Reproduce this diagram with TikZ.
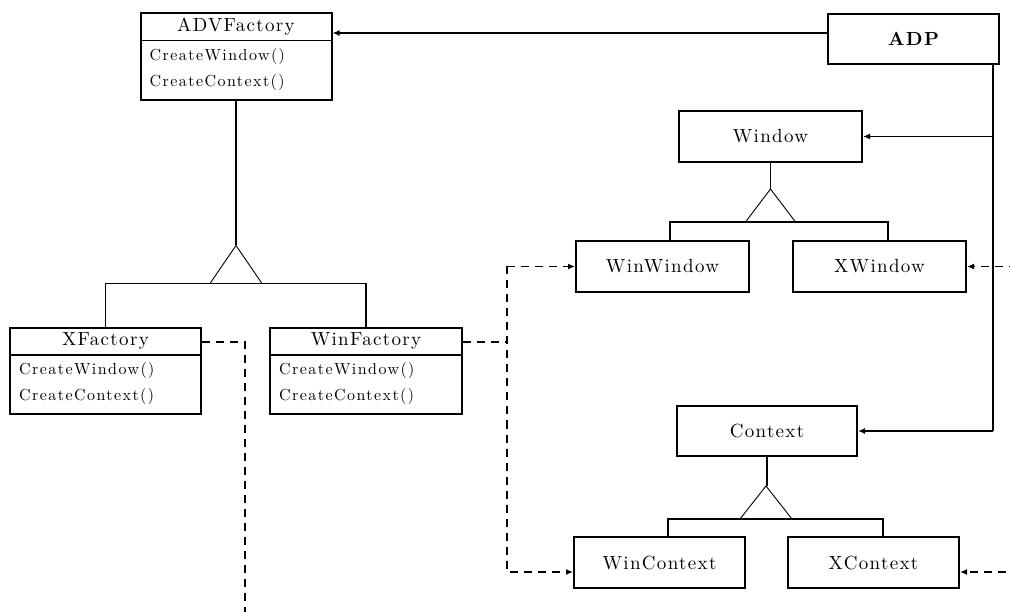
\documentclass[tikz,border=0pt]{standalone}
\usepackage{fontspec}
\usetikzlibrary{arrows.meta,calc}
\newfontfamily\ttlfam{lmroman10-regular}[Extension=.otf,BoldFont=lmroman10-bold,LetterSpace=7]
\newfontfamily\opfam{lmroman10-regular}[Extension=.otf,LetterSpace=9]
\newcommand{\ttlfont}{\ttlfam\fontsize{19}{22}\selectfont}
\newcommand{\opfont}{\opfam\fontsize{16}{19}\selectfont}
\begin{document}
\begin{tikzpicture}[x=1pt,y=-1pt,
  box/.style={draw,line width=2pt,rectangle,inner sep=0pt,font=\ttlfont,text height=13pt,text depth=0pt},
  conn/.style={line width=1.8pt},
  tri/.style={line width=0.9pt},
  dsh/.style={line width=1.8pt,dash pattern=on 8pt off 6pt},
  arr/.style={-{Latex[length=7pt,width=6pt]}},
  op/.style={anchor=base west,inner sep=0pt,font=\opfont},
  lbl/.style={anchor=base,inner sep=0pt,font=\ttlfont}]
\useasboundingbox (0,0) rectangle (1010,612);

% class boxes with compartments
\node[box,minimum width=191pt,minimum height=87pt] (ADV) at (236,57) {};
\node[box,minimum width=191pt,minimum height=86pt] (XF) at (105.5,371) {};
\node[box,minimum width=192pt,minimum height=86pt] (WF) at (366,371) {};
\foreach \b/\t in {ADV/ADVFactory,XF/XFactory,WF/WinFactory}{
  \draw[line width=1.4pt] ($(\b.north west)+(0,28)$) -- ($(\b.north east)+(0,28)$);
  \node[lbl] (\b-t) at ($(\b.north)+(0,19)$) {\t};
  \node[op] (\b-o1) at ($(\b.north west)+(10,48)$) {CreateWindow()};
  \node[op] (\b-o2) at ($(\b.north west)+(10,74)$) {CreateContext()};
}

% simple boxes
\node[box,minimum width=171pt,minimum height=50pt] (ADP) at (913.5,39) {\bfseries ADP};
\node[box,minimum width=183pt,minimum height=51pt] (Win) at (770.5,136.5) {Window};
\node[box,minimum width=173pt,minimum height=51pt] (WW) at (662.5,266.5) {WinWindow};
\node[box,minimum width=173pt,minimum height=51pt] (XW) at (879.5,266.5) {XWindow};
\node[box,minimum width=180pt,minimum height=50pt] (Ctx) at (767,431) {Context};
\node[box,minimum width=171pt,minimum height=51pt] (WC) at (659.5,562.5) {WinContext};
\node[box,minimum width=171pt,minimum height=51pt] (XC) at (873.5,562.5) {XContext};

% inheritance: factories
\coordinate (fa) at ($(ADV.south)+(0,144)$);
\coordinate (fb) at ($(fa)+(0,38)$);
\draw[conn] (ADV.south) -- (fa);
\draw[tri] ($(fa)+(-26,38)$) -- (fa) -- ($(fa)+(26,38)$);
\draw[conn] (XF.north) -- (XF.north |- fb) -- (WF.north |- fb) -- (WF.north);

% inheritance: windows
\coordinate (wa) at ($(Win.south)+(0,26)$);
\coordinate (wb) at ($(wa)+(0,33)$);
\draw[conn] (Win.south) -- (wa);
\draw[tri] ($(wa)+(-25,33)$) -- (wa) -- ($(wa)+(25,33)$);
\coordinate (wwt) at ($(WW.north)+(7.5,0)$);
\coordinate (xwt) at ($(XW.north)+(8.5,0)$);
\draw[conn] (wwt) -- (wwt |- wb) -- (xwt |- wb) -- (xwt);

% inheritance: contexts
\coordinate (ca) at ($(Ctx.south)+(-1,29)$);
\coordinate (cb) at ($(ca)+(0,33)$);
\draw[conn] (Ctx.south) -- (Ctx.south |- ca);
\draw[tri] ($(ca)+(-26,33)$) -- (ca) -- ($(ca)+(26,33)$);
\coordinate (wct) at ($(WC.north)+(8.5,0)$);
\coordinate (xct) at ($(XC.north)+(9.5,0)$);
\draw[conn] (wct) -- (wct |- cb) -- (xct |- cb) -- (xct);

% ADP associations
\coordinate (adpo) at ($(ADP.west)+(0,-6)$);
\draw[conn,arr] (adpo) -- (adpo -| ADV.east);
\coordinate (bus) at ($(ADP.south east)+(-7,0)$);
\draw[conn] (bus) -- (bus |- Ctx.east);
\draw[conn,arr] (bus |- Win.east) -- (Win.east);
\draw[conn,arr] (bus |- Ctx.east) -- (Ctx.east);

% dashed: WinFactory
\coordinate (wfo) at ($(WF.east)+(0,-29)$);
\coordinate (dv) at ($(wfo)+(44,0)$);
\coordinate (wcin) at ($(WC.west)+(0,9.5)$);
\draw[dsh] (wfo) -- (dv);
\draw[dsh,arr] (dv |- WW.west) -- (WW.west);
\draw[dsh,arr] (dv |- WW.west) -- (dv |- wcin) -- (wcin);

% dashed: XFactory
\coordinate (xfo) at ($(XF.east)+(0,-29)$);
\coordinate (xfd) at ($(xfo)+(43,0)$);
\coordinate (xfend) at ($(xfd)+(0,290)$);
\draw[dsh] (xfo) -- (xfd) -- (xfend);

% dashed: from right edge
\coordinate (rxw) at ($(XW.east)+(50,0)$);
\coordinate (xcin) at ($(XC.east)+(0,9.5)$);
\coordinate (rxc) at ($(xcin)+(60,0)$);
\draw[dsh,arr] (rxw) -- (XW.east);
\draw[dsh,arr] (rxc) -- (xcin);
\end{tikzpicture}
\end{document}
